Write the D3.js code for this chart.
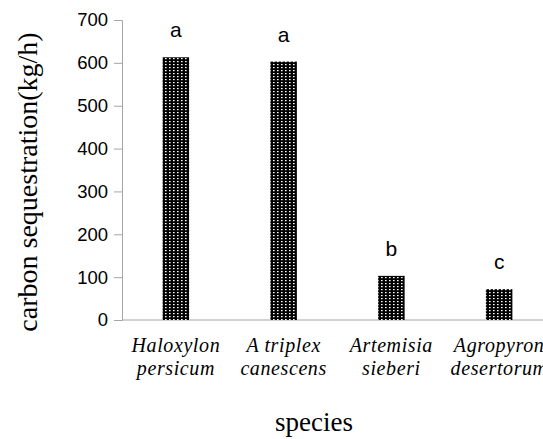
<!DOCTYPE html>
<html>
<head>
<meta charset="UTF-8">
<title>carbon sequestration</title>
<script src="https://d3js.org/d3.v7.min.js"></script>
<style>
  body { margin: 0; background: #fff; }
  svg { display: block; }
</style>
</head>
<body>
<div id="chart"></div>
<script>
// data
var species = [["Haloxylon", "persicum"], ["A triplex", "canescens"], ["Artemisia", "sieberi"], ["Agropyron", "desertorum"]];
var values = [613, 603, 103, 72];
var groups = ["a", "a", "b", "c"];
var yTicks = [0, 100, 200, 300, 400, 500, 600, 700];

var width = 543, height = 439;
var plotLeft = 122, plotTop = 20, plotBottom = 320, plotRight = 553;

var svg = d3.select("#chart").append("svg")
  .attr("width", width)
  .attr("height", height);

// dotted black fill of the bars
var pat = svg.append("defs").append("pattern")
  .attr("id", "dots")
  .attr("patternUnits", "userSpaceOnUse")
  .attr("width", 4)
  .attr("height", 3);
pat.append("rect").attr("width", 4).attr("height", 3).attr("fill", "#000");
pat.append("rect").attr("x", 1).attr("y", 1).attr("width", 1.6).attr("height", 1.2).attr("fill", "#fff");

var x = d3.scaleBand()
  .domain(d3.range(species.length))
  .range([plotLeft, plotRight])
  .paddingInner(0.754)
  .paddingOuter(0.377);

var y = d3.scaleLinear()
  .domain([0, 700])
  .range([plotBottom, plotTop]);

// y axis
var yAxis = svg.append("g")
  .attr("transform", "translate(" + plotLeft + ",0)")
  .call(d3.axisLeft(y).tickValues(yTicks).tickSize(8).tickPadding(6));
yAxis.select(".domain").attr("stroke", "#a6a6a6");
yAxis.selectAll(".tick line").attr("stroke", "#a6a6a6");
yAxis.selectAll(".tick text")
  .attr("font-family", "'Liberation Sans', Arial, sans-serif")
  .attr("font-size", 18.5)
  .attr("fill", "#000");

// x axis line
svg.append("line")
  .attr("x1", plotLeft).attr("x2", plotRight)
  .attr("y1", y(0)).attr("y2", y(0))
  .attr("stroke", "#a6a6a6");

// bars
svg.selectAll(".bar")
  .data(values)
  .enter().append("rect")
  .attr("class", "bar")
  .attr("x", function(d, i) { return x(i); })
  .attr("y", function(d) { return y(d); })
  .attr("width", x.bandwidth())
  .attr("height", function(d) { return y(0) - y(d); })
  .attr("fill", "url(#dots)");

// letters over bars
svg.selectAll(".grp")
  .data(values)
  .enter().append("text")
  .attr("class", "grp")
  .attr("x", function(d, i) { return x(i) + x.bandwidth() / 2; })
  .attr("y", function(d) { return y(d) - 20; })
  .attr("text-anchor", "middle")
  .attr("font-family", "'Liberation Sans', Arial, sans-serif")
  .attr("font-size", 21)
  .text(function(d, i) { return groups[i]; });

// species names
var names = svg.selectAll(".name")
  .data(species)
  .enter().append("text")
  .attr("class", "name")
  .attr("text-anchor", "middle")
  .attr("font-family", "'Liberation Serif', 'Times New Roman', serif")
  .attr("font-style", "italic")
  .attr("font-size", 20)
  .attr("letter-spacing", 0.6);
names.append("tspan")
  .attr("x", function(d, i) { return x(i) + x.bandwidth() / 2; })
  .attr("y", 352)
  .text(function(d) { return d[0]; });
names.append("tspan")
  .attr("x", function(d, i) { return x(i) + x.bandwidth() / 2; })
  .attr("y", 375)
  .text(function(d) { return d[1]; });

// axis titles
svg.append("text")
  .attr("x", 314)
  .attr("y", 431)
  .attr("text-anchor", "middle")
  .attr("font-family", "'Liberation Serif', 'Times New Roman', serif")
  .attr("font-size", 27)
  .text("species");

svg.append("text")
  .attr("transform", "translate(37,182) rotate(-90)")
  .attr("text-anchor", "middle")
  .attr("font-family", "'Liberation Serif', 'Times New Roman', serif")
  .attr("font-size", 28)
  .text("carbon sequestration(kg/h)");
</script>
</body>
</html>
